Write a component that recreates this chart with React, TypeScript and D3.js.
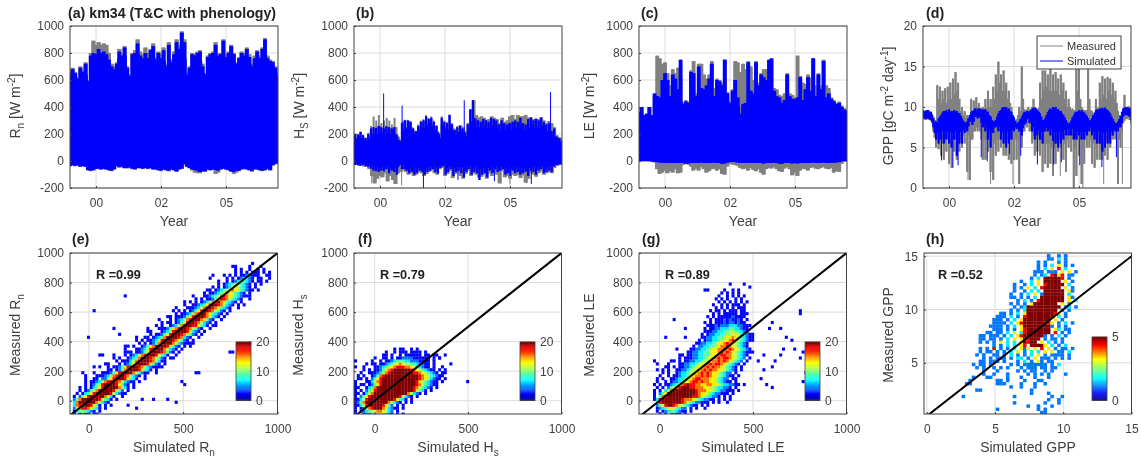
import React, { useRef, useEffect } from "react";
import * as d3 from "d3";

const W = 1141;
const H = 461;

// time axis: envelopes are read at even steps between these two years
const yearSpan = [1999, 2007];
const yearTicks = [2000, 2002.5, 2005];
const yearLabels = ["00", "02", "05"];

// (a) Rn envelopes
const rnObsUp = [660,690,660,620,700,670,730,600,800,890,860,880,860,870,860,800,720,700,730,830,790,850,700,640,800,820,900,810,790,840,800,830,870,770,810,790,840,720,880,750,810,900,860,960,900,660,700,800,790,810,820,720,650,780,800,810,880,800,800,900,790,810,860,800,730,770,810,800,840,790,720,780,820,780,840,910,780,750,740,700,630];
const rnSimUp = [630,590,680,620,650,600,610,560,690,620,660,600,720,640,590,560,780,700,800,740,790,710,830,760,800,730,810,740,790,720,750,690,700,650,680,660,720,760,810,740,780,700,840,780,690,640,630,600,790,720,800,750,870,790,780,720,760,700,800,750,760,710,820,770,850,760,750,700,800,740,760,700,820,740,700,650,860,760,730,680,790,730,880,800,830,770,950,860,880,760,640,600,690,650,790,720,780,730,800,740,810,740,700,650,640,610,770,710,790,740,800,740,860,780,780,720,790,730,890,760,770,720,800,750,850,770,790,730,720,680,760,710,800,750,780,720,830,760,770,720,700,660,760,710,810,750,760,720,830,770,900,770,760,720,740,700,730,680,690,650,620];
const rnObsLow = [-38,-32,-38,-32,-42,-38,-42,-70,-75,-70,-60,-60,-64,-60,-64,-70,-75,-64,-38,-48,-44,-54,-54,-48,-60,-64,-54,-54,-60,-54,-60,-54,-64,-64,-70,-75,-64,-70,-75,-64,-70,-80,-64,-60,-24,-44,-54,-70,-85,-90,-90,-80,-80,-65,-70,-65,-95,-85,-65,-60,-64,-70,-80,-95,-85,-75,-64,-60,-64,-70,-80,-64,-64,-70,-75,-70,-60,-70,-34,-24,-18];
const rnSimLow = [-35,-30,-35,-30,-40,-35,-40,-65,-70,-65,-55,-55,-60,-55,-60,-65,-70,-60,-35,-45,-40,-50,-50,-45,-55,-60,-50,-50,-55,-50,-55,-50,-60,-60,-65,-70,-60,-65,-70,-60,-65,-75,-60,-55,-20,-40,-50,-60,-65,-70,-80,-75,-75,-60,-65,-60,-65,-70,-60,-55,-60,-65,-75,-80,-70,-70,-60,-55,-60,-65,-70,-60,-60,-65,-70,-65,-55,-65,-30,-20,-15];

// (b) Hs envelopes
const hsObsUp = [190,205,170,200,190,220,170,195,175,170,150,210,180,260,210,330,240,300,250,340,260,280,240,300,260,320,250,300,240,270,220,320,250,200,180,160,150,290,240,305,250,305,260,295,240,250,210,225,200,270,240,300,250,310,260,340,280,320,270,330,280,300,250,265,220,210,180,330,270,300,260,290,250,345,280,280,240,240,200,260,220,265,230,250,220,220,190,280,240,385,300,450,340,340,280,320,260,330,280,320,260,305,250,310,270,330,270,320,270,310,250,280,240,320,260,290,250,300,260,330,270,340,280,310,250,340,270,330,270,330,270,340,280,320,260,325,270,310,260,315,250,310,260,325,270,300,250,280,230,295,240,280,200,250,190,190,160,175,150,160];
const hsSimUp = [180,200,165,195,180,215,170,190,160,170,150,200,165,240,190,250,200,245,195,260,205,250,210,240,190,255,205,250,200,240,195,250,200,190,160,150,140,280,220,300,240,300,250,290,220,240,200,220,190,260,210,290,240,300,240,330,260,310,250,320,260,290,230,260,210,200,170,320,260,290,240,280,230,340,260,270,220,230,190,250,210,260,220,240,210,210,180,270,230,380,290,450,320,310,250,300,250,290,240,310,250,300,240,290,240,320,260,310,250,300,240,270,220,300,240,280,230,270,220,280,230,290,240,300,240,290,240,320,260,280,230,270,220,310,250,320,260,300,240,310,250,300,240,320,260,290,240,270,220,280,220,220,190,240,180,180,150,170,140,150];
const hsObsLow = [-30,-25,-35,-30,-40,-35,-60,-110,-165,-130,-110,-120,-90,-150,-110,-140,-170,-90,-80,-70,-80,-100,-90,-110,-100,-80,-90,-110,-95,-80,-70,-90,-100,-60,-50,-110,-95,-70,-125,-95,-85,-110,-130,-95,-70,-110,-90,-100,-120,-115,-100,-130,-90,-110,-80,-100,-165,-75,-120,-110,-130,-100,-110,-100,-125,-105,-160,-130,-90,-100,-115,-90,-75,-100,-90,-80,-90,-50,-35,-30,-25];
const hsSimLow = [-22,-30,-20,-28,-25,-35,-22,-30,-25,-40,-28,-45,-30,-55,-35,-70,-40,-75,-45,-80,-50,-70,-40,-75,-45,-60,-35,-90,-50,-70,-40,-80,-50,-100,-45,-30,-25,-60,-30,-60,-35,-70,-40,-90,-50,-80,-40,-100,-50,-90,-45,-70,-40,-80,-45,-100,-50,-80,-45,-70,-40,-60,-35,-80,-45,-90,-40,-50,-30,-40,-30,-100,-50,-80,-40,-60,-35,-110,-50,-80,-45,-70,-40,-90,-45,-120,-55,-80,-40,-60,-35,-100,-50,-80,-40,-90,-50,-140,-55,-100,-50,-90,-45,-120,-50,-70,-35,-90,-45,-60,-35,-80,-40,-70,-35,-60,-35,-100,-50,-90,-45,-110,-50,-70,-40,-90,-45,-80,-40,-100,-50,-90,-45,-80,-40,-110,-50,-70,-35,-80,-40,-100,-45,-70,-35,-60,-35,-90,-45,-80,-40,-70,-35,-80,-35,-40,-25,-30,-22,-25,-20,-20];
const hsObsSpikes = [[1999.68, -165], [2000.83, -180], [2000.62, -165], [2005.0, -170], [2005.6, -160]];
const hsSimSpikes = [[2000.14, 500], [2000.85, 410], [2001.67, -200], [2003.24, 450], [2006.56, 510], [2003.0, -140], [2004.4, -150], [2005.82, -170]];

// (c) LE envelopes
const leObsUp = [360,340,400,350,340,330,350,330,400,340,340,330,480,390,780,560,760,600,720,520,730,500,650,470,560,480,680,520,650,500,690,480,620,440,430,380,450,400,440,390,670,480,740,520,500,440,720,480,720,500,640,470,610,460,640,480,740,520,540,450,610,470,600,450,580,430,750,450,510,400,440,380,530,420,740,500,730,520,660,480,720,520,680,480,740,500,700,480,600,440,740,480,580,450,650,460,680,490,680,480,560,430,530,420,540,430,530,430,490,400,480,400,500,420,650,450,500,420,490,410,470,410,780,450,630,460,580,440,570,440,640,460,620,450,760,470,560,440,650,470,560,440,750,460,560,430,540,420,470,400,450,390,430,380,440,380,410,370,390,360,375];
const leSimUp = [360,330,400,340,340,330,350,320,400,330,340,320,500,400,480,430,470,430,600,450,650,460,600,440,480,420,640,450,610,450,530,430,750,440,420,360,440,380,430,370,660,430,650,440,480,400,700,450,540,430,530,420,560,430,610,440,720,450,480,420,600,440,590,430,560,410,750,430,500,390,430,360,520,410,600,440,470,400,350,330,420,370,430,380,730,430,520,420,500,420,730,430,560,430,640,450,620,440,600,440,750,430,760,430,520,410,480,400,470,400,430,380,450,390,640,420,480,400,460,400,460,400,470,400,620,420,450,390,530,410,620,430,520,410,760,430,480,410,640,430,530,410,740,420,470,400,500,410,460,390,440,380,420,370,430,380,400,360,380,350,370];
const leObsLow = [-2,-2,-2,-2,-2,-4,-10,-60,-95,-85,-70,-90,-75,-85,-60,-90,-85,-30,-15,-25,-40,-70,-55,-70,-45,-60,-85,-75,-60,-55,-70,-60,-95,-100,-40,-20,-25,-30,-35,-50,-60,-55,-70,-50,-65,-75,-60,-85,-100,-60,-50,-55,-45,-60,-75,-80,-55,-45,-60,-105,-85,-110,-70,-55,-60,-70,-50,-45,-55,-60,-50,-45,-55,-60,-50,-85,-75,-80,-20,-8,-3];
const leSimLow = [0,0,0,0,0,-2,-5,-8,-10,-12,-12,-14,-12,-15,-12,-15,-14,-10,-18,-20,-14,-15,-12,-15,-10,-12,-15,-14,-12,-10,-12,-15,-20,-18,-10,-8,-5,-8,-10,-12,-14,-12,-15,-10,-12,-15,-12,-14,-18,-15,-12,-14,-10,-15,-18,-20,-14,-12,-15,-18,-15,-18,-14,-12,-14,-15,-12,-10,-12,-15,-12,-10,-12,-14,-10,-12,-10,-8,-2,0,0];

// (d) GPP envelopes
const gppObsUp = [9.6,9.5,9.6,9.4,9.6,9.5,9.4,9.2,8.8,8.4,8.3,12.7,11,12.5,10.5,12,11,12.3,10.5,12.5,11,13,11,13.5,11.5,14.3,12,13,11,9.5,10,9,9.5,8.6,9,8.7,9,11,9.5,10.8,9.5,11.2,10,10.5,9.5,9.9,10,9.8,11,9.9,12,10,11,10,12.5,11,14,12,15.6,13,14,12,14.5,12,13,11,12,10.5,10,9,8.4,8.2,8.5,9,10,9.5,15,11,9.7,9.6,9.7,10,9.6,9.8,10,11,10,9.8,9.7,9.9,13,11,14.5,12,14.5,12.5,14,12,14.7,12,14,12,14.3,12,13.5,11.5,14,12,13,11,12,10,11,10,9.6,9.8,9.5,9.6,14.7,12,14.9,11,10,9.7,9.6,9.6,9.6,15,11,9.6,9.5,8.5,9,11,9.5,10,13,11,13.8,11.5,13.5,11,13.7,12,13.5,11.5,13,11,12,10.5,9.5,9,8.5,9,9.5,11.5,10,10,10.1,10,9.8];
const gppSimUp = [9.6,9.4,9.5,9.6,9.6,9.3,9.4,9,8.6,8.1,8.2,8,8.6,8.8,9,9.3,9.5,9.4,9.6,9.3,9.7,9.4,9.5,9.3,9.6,9.4,9.5,9.2,9.2,8.9,8.6,8.3,8,8.1,8.2,8.6,9,9.3,9.5,9.6,9.8,9.6,9.8,9.7,9.8,9.6,9.7,9.6,9.7,9.4,9.4,9,8.8,8.4,8.2,8.2,8.4,8.8,9.2,9.5,9.6,9.9,10,9.8,10,9.7,9.8,9.5,9.4,9,8.7,8.3,8,8,8.2,8.5,8.8,9.1,9.4,9.3,9.5,9.3,9.5,9.6,9.7,9.9,9.9,9.8,9.6,9.4,9.2,8.8,8.4,8.4,8.6,9,9.4,9.6,9.8,9.7,10,9.8,10,9.7,9.7,9.5,9.5,9.2,9,8.7,8.4,8.1,7.9,8,8.3,8.7,9,9.3,9.4,9.4,9.6,9.4,9.6,9.4,9.3,9.1,8.9,8.6,8.3,8.4,8.6,9,9.3,9.6,9.7,9.6,9.8,9.7,9.9,9.7,9.9,9.7,9.6,9.4,9.2,8.8,8.5,8.2,8,8,8.2,8.5,8.9,9.4,9.8,9.9,10,9.9,9.9,9.8,9.6];
const gppObsLow = [8.5,8.6,8.4,8.5,8.5,8.4,8.3,8,7,6.2,5,6,4.8,6,4,5.5,3.5,5.5,4.5,6,3,5.5,2.5,5,4.5,6,3.5,5.5,4.5,6,5,6.5,5.5,7,2,6.5,1,6,6,7,7,7.5,7,7.5,7,6,3.5,6,3.5,6,4.5,6.5,2,6,1,5.5,4,6,4.5,6,5,6.5,4,6,4,6,3.5,6,3,6,3.5,6,3.5,6,0.5,6,5,7,7,8,7.5,8,7,7,5.5,6.5,4,6,4.5,6,4,6,2,5.5,3,5.5,2.5,5.5,3,5,1.5,5,3,5.5,4.5,6,5,6,3.5,5.5,2,6,5,6.5,4.5,6,0,5,1.5,6,4,6,0.5,5,3,6,5,6.5,5,6,3,5.5,2.5,5.5,3.5,5.5,3.5,5.5,3.5,5.5,4,6,3.5,6,5,6.5,6,7,6,7,0.5,6,5,7,8,8.3,8.5,8.6,8.5,8.4,8];
const gppSimLow = [8.6,8.7,8.5,8.6,8.6,8.5,8.4,8.2,7.5,6.8,6,6.9,5.5,6.9,6,7,5.5,7,6,7,5.5,7,5,6.8,6,7,4,6.8,5.5,7,5.5,7.2,6.8,7.5,7,7.6,8.2,8.4,7.8,8.2,8.8,8.9,8.6,8.8,8.7,8,7.5,8,7,7.6,6,7.2,5,7,6.8,7.5,7.5,7.8,7,7.5,6,7,5.5,7,5,7,5.5,7,6,7.2,7,7.5,7.3,7.5,7,7.4,6.5,7.4,7.8,8,8.5,8.6,8,8.4,7,7.6,6,7,6.5,7.2,6,7,5.5,7,7,7.5,7,7.3,6.5,7.2,5.8,7,5.5,7,5,7,5.5,7,6,7.2,6.5,7.3,6.5,7.3,6.5,7.3,6,7,6,7,6.5,7,6,7,6,7,6.5,7.2,7,7.5,6.5,7,6,7,5.5,7,5.5,7,4.5,6.8,5,7,5.5,7,5.5,7,6.5,7.3,7,7.5,7,7.5,7.5,8,8.8,9,9,9.1,8.9,8.8,8.4];
const gppObsSpikes = [[2000.73, 1], [2001.6, 0.5], [2002.46, 0.5], [2004.28, 1.5], [2005.15, 0], [2005.95, 0.5], [2006.67, 0.5]];
const gppSimSpikes = [[1999.71, 3.4], [2000.15, 2.5], [2000.35, 2.8], [2001.24, 3.8], [2001.47, 3.3], [2002.33, 4.2], [2002.76, 4], [2003.4, 2.9], [2004.03, 2.9], [2004.32, 3.2], [2005.03, 2.8], [2005.88, 2.6], [2006.44, 3.8]];

// density rows: [first column, one digit per bin, 1 = lowest, 9 = colour bar top, . = empty]
const rnRows = [
  [1,"1.1211.11"],[1,"13454321.1"],[1,"2578876431.1"],[1,"3789998641.1.1"],[1,"3799999975321"],
  [1,"24799999986431.1"],[1,"1.2468999997631..1"],[2,"1.1346899999853211"],[3,"1.12457999998642.1"],[3,"1.1.13468999997531.1"],
  [2,"...1.12458999986421.1"],[3,"..1.1123578998753211.1"],[5,"1..11.2246899986431..1"],[6,"...1112357899875321.1"],[7,".1..11124689999754211..1"],
  [9,"....11.1247899986431.1"],[10,"1..1.112458999875321111"],[11,".11...1.1236899986421.1"],[13,"...1.1113578999875311"],[14,".1.1..12347999875421.11"],
  [15,"1...1.12357899986431..1"],[17,"..111.11246899987421.1"],[18,".1...112358999975321.1"],[19,"11.1..12467999986421.1.1"],[21,"...1.1.1247899975321111"],
  [22,".1.1.112358999876421.1"],[23,"1..11.12347999987321..1"],[25,"...1.112468999875421.1"],[26,".11...12358999986321.1"],[27,"1...1112467899875421..1"],
  [29,".1.1..12357999886431.11"],[30,"..1.11.1246899875321.1"],[31,"1...1.12357899976421..1"],[33,".11.1112468999875321.1"],[34,"...1.112357899764321.1"],
  [35,".1.1.1.1246899875421.1"],[37,"1...1112357998764321..1"],[38,"..1..112346899875321.1.1"],[39,".1.1.1.1235789764321.1"],[41,"...1.1.1124688754321..1"],
  [42,".1...11234578765432111"],[43,"....1.1123467654321.1"],[45,"...11.12345676543211.1"],[46,"....1.1.1235654321.1"],[47,".....1.1234554321.1.1"],
  [49,"...1..1.12344321.1"],[50,".....1.1.123321.11..1"],[51,"...1.1.1.1122111..11"],[53,".....1.1.1.111.1.1"],[54,"....1.1..1..1.1"],
  [55,"...1....1...1"],
];
const rnOutliers = [[32,612],[-10,420],[190,710],[130,480],[160,450],[70,310],[50,300],[20,220],[-20,160],[-40,180],[287,0],[340,0],[420,0],[455,-15],[491,120],[500,100],[570,190],[585,190],[765,320],[745,325],[845,385],[250,-60],[200,-40],[760,900],[905,800],[940,805],[870,920],[640,830],[650,850]];

const hsRows = [
  [0,"1..12233454321.1.1"],[0,"1.123456776532.1"],[0,"1.12478999753211.1"],[0,"11358999998642.1.1"],[0,"12479999999975321.1.1"],
  [0,"1135899999999986431.1"],[0,"1.2468999999999986321.1"],[0,"11.135799999999999975321.1"],[0,"1.1.2468999999999999986431.1"],[0,"11..134799999999999998754321.1"],
  [0,"1.11.1246899999999999987543211"],[0,"1...11357899999999999986543211.1"],[1,"11.1.2468999999999999987653211.1"],[1,"1.1..12478999999999999876543211"],[2,"1..1112357899999999887654321.11"],
  [2,".1.1.1124678999999876543211.1.1"],[3,"1...11234567888776543211.1..1"],[4,"1.11.112345676554432211.1"],[6,"1..1.1123444332221111.1"],[7,"1..11.1.112222111111.1.1"],
  [10,"11.1..1.111111.11.11"],[11,"1..1.111.1111.1"],[14,"1.11..1.1"],
];
const hsOutliers = [[500,130],[410,240],[375,300],[345,290],[-105,260],[-100,225]];

const leRows = [
  [7,"1.1.2211.1"],[6,"1.123443211.1"],[6,"12345654322.1.1..1"],[6,"246899876543211.1.1"],[6,"5899999998754322111.1.1..1"],
  [5,"1389999999877765432211.1.1.1"],[5,"1.4789999999998876543221.1.1"],[5,"1.2469999999999876654322111.1"],[5,"1.1.3579999999987776654322111.1"],[5,".1.1.24678999887776655433221.1"],
  [5,"1.1.112345789887766776654332211.1"],[6,"1..1.1223456788787766543211.1"],[6,"1.1..112334567887776654322.11"],[7,"1..1.1123345677878766543211.1"],[7,".1.1..12334566787876654322.1"],
  [8,"1.1..1122345667878776654321.1"],[9,"1..1.112234566787877654321.1"],[9,".1...1122334566787887654321.1"],[12,"1.1.112233455677878765432.1"],[14,"1.1112233456678788765432.1"],
  [15,"1.1122334456678877654321"],[17,"11223344566787876543211"],[18,"1122334566778787654321"],[19,"1.223344567787654321"],[20,"1122334566787654321"],
  [21,"1.122334556786543211"],[21,".1122334456676543211"],[22,"1.12233445566543211"],[22,".1112233445544321"],[23,"1.11223334433211"],
  [23,".1112122233322111"],[23,"1.1.11121221211"],[24,".1.1112121121.1"],[24,"1.1.1111121111"],[25,".1.1.11111.111"],
  [25,"1.11.1.111.11"],[26,".1.1.1.1.111"],[26,"1..1.1.111.1"],[27,".1.1.1.1.1.1"],[27,"1.1.1..1.1"],
  [28,"1..1.1.1.1"],[29,"1.1.1.1"],[30,"1..1.1"],
];
const leOutliers = [[237,757],[375,784],[455,780],[480,765],[250,750],[583,484],[640,495],[600,530],[750,600],[745,595],[700,400],[720,350],[770,320],[750,280],[640,300],[620,260],[600,220],[560,200],[540,150],[570,100],[600,90],[780,180],[760,130],[660,350],[680,420],[70,540],[140,480],[-30,270],[30,420],[90,355],[130,420],[100,300],[60,260],[40,230],[-10,200],[-20,250],[560,310],[520,260],[500,330]];

const gppRows = [
  [34,"22"],[21,"2...........2.2"],[30,"2..2...2"],[26,"2........2...2"],[36,"2..2"],
  [11,"2..............2..........2..2"],[31,"2....2"],[15,"22..............2"],[25,"2..2...2"],[12,"22.......222....2...2..2"],
  [13,"2.......22.2....2...22"],[14,"2...22....2...2...2...2"],[17,"2..2...2.....2.2.2.2....2"],[17,"2...2.....2.2.22..2.2"],[15,"2.2..2.2.2...2.222.22.22"],
  [14,"2.22.2.....2.2.2222222.2.3"],[16,"22.222.2...2.3.2.62.22"],[17,"2.2.222.2.33.2.6.222.2.2.2"],[15,"2.2..22.2.3.2.2.3.6.2.2222.2"],[16,"2.22.2.2.3.6.2.3.3.6.6.22.3"],
  [16,"2.2.8.2.2.3.626.6.8.6.2.22.2"],[16,"....2.2.3.3.68.99996.3.2.3"],[16,"2.2.2.6.3.3.69899.6.3.2.2"],[16,"22.22.2.3.6.698999.2.22.2"],[16,"22.222.2.3.689999992.2.3.2"],
  [16,"..22.22.3.6.389999999.8.2.2"],[16,"....222.2.2.689999999.63.22"],[16,"...2222.2.3.6999999992.2.2"],[16,"....2222.3.68999999986.2.3.2"],[16,"....222.2.3.699999999.6.2"],
  [16,".....222.3.2.899999999.3.2"],[16,"......22.2.3.69999999986.2"],[16,".........2.2.3999999999.2.2"],[16,"..........2.239999999999.23.2"],[16,".........2.2.2.69999999.6.2"],
  [16,"...........2.3.2.89999999.6.3"],[16,".........22.2.2.3.9999999.62"],[16,".........2..2.3.6.2999999.3"],[16,"..........2..2.3.3.999999.62"],[16,"..........2.2.6.3.899999.6.2"],
  [16,"..........2..2.3.6.899999.3"],[16,"............2..3.6.99999.6.2"],[16,"...............2.3.999998.2"],[16,"................2.23.8968.22"],[16,"................222.222.6.6.2"],
  [16,".................2.3.6.8.3"],[16,".................2.2.3.6.2.2"],[16,".................2.2...2.2"],[16,"....................22.3.2"],[16,"....................2..2.2"],
];

// colour bar
const jetStops = [0, 0.11, 0.35, 0.5, 0.65, 0.88, 1];
const jetColors = ["#00007f", "#0000ff", "#00ffff", "#7fff7f", "#ffff00", "#ff0000", "#7f0000"];

const INK = "#404040";
const GRID = "#dcdcdc";
const FONT = "'Liberation Sans', Arial, sans-serif";

const topPanels = [
  { left: 70, tag: "(a) km34 (T&C with phenology)", tagX: 68, domain: [-200, 1000], ticks: [-200, 0, 200, 400, 600, 800, 1000], obsUp: rnObsUp, simUp: rnSimUp, obsLow: rnObsLow, simLow: rnSimLow, obsSpikes: [], simSpikes: [], base: 300, labelX: 20, label: [["R"], ["n", "sub"], [" [W m"], ["-2", "sup"], ["]"]] },
  { left: 354, tag: "(b)", tagX: 356, domain: [-200, 1000], ticks: [-200, 0, 200, 400, 600, 800, 1000], obsUp: hsObsUp, simUp: hsSimUp, obsLow: hsObsLow, simLow: hsSimLow, obsSpikes: hsObsSpikes, simSpikes: hsSimSpikes, base: 70, labelX: 304, label: [["H"], ["S", "sub"], [" [W m"], ["-2", "sup"], ["]"]] },
  { left: 639, tag: "(c)", tagX: 641, domain: [-200, 1000], ticks: [-200, 0, 200, 400, 600, 800, 1000], obsUp: leObsUp, simUp: leSimUp, obsLow: leObsLow, simLow: leSimLow, obsSpikes: [], simSpikes: [], base: 150, labelX: 594, label: [["LE [W m"], ["-2", "sup"], ["]"]] },
  { left: 923, tag: "(d)", tagX: 926, domain: [0, 20], ticks: [0, 5, 10, 15, 20], obsUp: gppObsUp, simUp: gppSimUp, obsLow: gppObsLow, simLow: gppSimLow, obsSpikes: gppObsSpikes, simSpikes: gppSimSpikes, base: 8, labelX: 893, label: [["GPP [gC m"], ["-2", "sup"], [" day"], ["-1", "sup"], ["]"]] },
];

const bottomPanels = [
  { left: 70, tag: "(e)", tagX: 72, rText: "R =0.99", rX: 96, xDomain: [-100, 1000], yDomain: [-90, 1000], xTicks: [0, 500, 1000], yTicks: [0, 200, 400, 600, 800, 1000], rows: rnRows, outliers: rnOutliers, bins: [-100, 15, -100, 20], barX: 236, barTop: 342, barMax: 20, barTicks: [0, 10, 20], labelX: 20, yLabel: [["Measured R"], ["n", "sub"]], xLabel: [["Simulated R"], ["n", "sub"]] },
  { left: 354, tag: "(f)", tagX: 358, rText: "R =0.79", rX: 380, xDomain: [-110, 1000], yDomain: [-90, 1000], xTicks: [0, 500, 1000], yTicks: [0, 200, 400, 600, 800, 1000], rows: hsRows, outliers: hsOutliers, bins: [-110, 15, -100, 20], barX: 520, barTop: 342, barMax: 20, barTicks: [0, 10, 20], labelX: 303, yLabel: [["Measured H"], ["s", "sub"]], xLabel: [["Simulated H"], ["s", "sub"]] },
  { left: 639, tag: "(g)", tagX: 642, rText: "R =0.89", rX: 665, xDomain: [-110, 1000], yDomain: [-90, 1000], xTicks: [0, 500, 1000], yTicks: [0, 200, 400, 600, 800, 1000], rows: leRows, outliers: leOutliers, bins: [-110, 15, -100, 20], barX: 805, barTop: 342, barMax: 20, barTicks: [0, 10, 20], labelX: 594, yLabel: [["Measured LE"]], xLabel: [["Simulated LE"]] },
  { left: 924, tag: "(h)", tagX: 926, rText: "R =0.52", rX: 938, xDomain: [-0.2, 15], yDomain: [0.2, 15.3], xTicks: [0, 5, 10, 15], yTicks: [5, 10, 15], rows: gppRows, outliers: [], bins: [-0.2, 0.25, 0.2, 0.3], barX: 1092, barTop: 337, barMax: 5, barTicks: [0, 5], labelX: 893, yLabel: [["Measured GPP"]], xLabel: [["Simulated GPP"]] },
];

const addRich = (text, parts) => {
  let back = 0;
  parts.forEach(([s, kind]) => {
    const shift = kind === "sub" ? 4 : kind === "sup" ? -5 : 0;
    const span = text.append("tspan").text(s).attr("dy", back + shift);
    if (kind) span.attr("font-size", 10);
    back = -shift;
  });
};

const styleAxis = (g) => {
  g.selectAll("path").remove();
  g.selectAll("line").attr("stroke", INK);
  g.selectAll("text").attr("fill", INK).attr("font-size", 12).attr("font-family", FONT);
};

const drawFrame = (g, x, y, xTicks, yTicks, xFmt) => {
  const [x0, x1] = x.range();
  const [y0, y1] = y.range();
  g.append("g").selectAll("line").data(xTicks).join("line")
    .attr("x1", (d) => x(d)).attr("x2", (d) => x(d)).attr("y1", y0).attr("y2", y1)
    .attr("stroke", GRID);
  g.append("g").selectAll("line").data(yTicks).join("line")
    .attr("y1", (d) => y(d)).attr("y2", (d) => y(d)).attr("x1", x0).attr("x2", x1)
    .attr("stroke", GRID);
  return () => {
    const xAxis = d3.axisBottom(x).tickValues(xTicks).tickFormat(xFmt).tickSizeInner(-2).tickSizeOuter(0).tickPadding(10);
    g.append("g").attr("transform", `translate(0,${y0})`).call(xAxis).call(styleAxis);
    const yAxis = d3.axisLeft(y).tickValues(yTicks).tickSizeInner(-2).tickSizeOuter(0).tickPadding(6).tickFormat((d) => String(d));
    g.append("g").attr("transform", `translate(${x0},0)`).call(yAxis).call(styleAxis);
    g.append("rect").attr("x", x0).attr("y", y1).attr("width", x1 - x0).attr("height", y0 - y1)
      .attr("fill", "none").attr("stroke", INK);
  };
};

const addTag = (g, s, x, y) => {
  g.append("text").attr("x", x).attr("y", y).attr("font-family", FONT).attr("font-weight", "bold")
    .attr("font-size", 14.2).attr("fill", "#222").text(s);
};

const addYLabel = (g, parts, x, y) => {
  const t = g.append("text").attr("transform", `translate(${x},${y}) rotate(-90)`)
    .attr("text-anchor", "middle").attr("font-family", FONT).attr("font-size", 14).attr("fill", INK);
  addRich(t, parts);
};

const addXLabel = (g, parts, x, y) => {
  const t = g.append("text").attr("x", x).attr("y", y)
    .attr("text-anchor", "middle").attr("font-family", FONT).attr("font-size", 14).attr("fill", INK);
  addRich(t, parts);
};

const App = () => {
  const svgRef = useRef();

  useEffect(() => {
    const svg = d3.select(svgRef.current);
    svg.selectAll("*").remove();
    const defs = svg.append("defs");
    defs.append("filter").attr("id", "soft").attr("x", 0).attr("y", 0).attr("width", 1).attr("height", 1)
      .append("feGaussianBlur").attr("stdDeviation", 0.5);
    const root = svg.append("g").attr("filter", "url(#soft)");
    root.append("rect").attr("width", W).attr("height", H).attr("fill", "#fff");

    const jet = d3.scaleLinear().domain(jetStops).range(jetColors).clamp(true);

    // time series row
    topPanels.forEach((p, i) => {
      const g = root.append("g");
      const x = d3.scaleLinear().domain(yearSpan).range([p.left, p.left + 208]);
      const y = d3.scaleLinear().domain(p.domain).range([188, 26]);
      const finish = drawFrame(g, x, y, yearTicks, p.ticks, (_, k) => yearLabels[k]);
      const clipId = `top${i}`;
      defs.append("clipPath").attr("id", clipId).append("rect")
        .attr("x", p.left).attr("y", 26).attr("width", 208).attr("height", 162);
      const plot = g.append("g").attr("clip-path", `url(#${clipId})`);

      // each reading is one vertical stroke from the opposite envelope to its value
      const strokes = (values, other, color) => {
        const at = d3.scaleLinear().domain([0, values.length - 1]).range(yearSpan);
        const wide = (208 / (values.length - 1)) * 1.5;
        const pick = (k) => other[Math.round((k / (values.length - 1)) * (other.length - 1))];
        plot.append("g").selectAll("line").data(values).join("line")
          .attr("x1", (_, k) => x(at(k))).attr("x2", (_, k) => x(at(k)))
          .attr("y1", (_, k) => y(pick(k))).attr("y2", (d) => y(d))
          .attr("stroke", color).attr("stroke-width", wide);
      };
      const spikes = (list, color) => {
        plot.append("g").selectAll("line").data(list).join("line")
          .attr("x1", (d) => x(d[0])).attr("x2", (d) => x(d[0]))
          .attr("y1", y(p.base)).attr("y2", (d) => y(d[1]))
          .attr("stroke", color).attr("stroke-width", 1);
      };
      strokes(p.obsUp, p.obsLow, "#808080");
      strokes(p.obsLow, p.obsUp, "#808080");
      spikes(p.obsSpikes, "#808080");
      strokes(p.simUp, p.simLow, "#0000ff");
      strokes(p.simLow, p.simUp, "#0000ff");
      spikes(p.simSpikes, "#0000ff");
      finish();
      addTag(g, p.tag, p.tagX, 18);
      addYLabel(g, p.label, p.labelX, 106);
      addXLabel(g, [["Year"]], p.left + 104, 226);
    });

    // legend of (d)
    const legend = root.append("g");
    legend.append("rect").attr("x", 1037).attr("y", 36).attr("width", 84).attr("height", 33)
      .attr("fill", "#fff").attr("stroke", INK);
    [["Measured", "#808080", 46], ["Simulated", "#0000ff", 61]].forEach(([s, c, yy]) => {
      legend.append("line").attr("x1", 1040).attr("x2", 1063).attr("y1", yy).attr("y2", yy).attr("stroke", c);
      legend.append("text").attr("x", 1067).attr("y", yy + 4).attr("font-family", FONT).attr("font-size", 11)
        .attr("fill", "#333").text(s);
    });

    // scatter density row
    bottomPanels.forEach((p, i) => {
      const g = root.append("g");
      const x = d3.scaleLinear().domain(p.xDomain).range([p.left, p.left + 207.5]);
      const y = d3.scaleLinear().domain(p.yDomain).range([414, 253]);
      const finish = drawFrame(g, x, y, p.xTicks, p.yTicks, (d) => String(d));
      const clipId = `bot${i}`;
      defs.append("clipPath").attr("id", clipId).append("rect")
        .attr("x", p.left).attr("y", 253).attr("width", 207.5).attr("height", 161);
      const plot = g.append("g").attr("clip-path", `url(#${clipId})`);
      const [x0, dx, y0, dy] = p.bins;
      const cells = [];
      p.rows.forEach(([start, digits], r) => {
        Array.from(digits).forEach((ch, k) => {
          if (ch !== ".") cells.push({ c: start + k, r, v: +ch });
        });
      });
      p.outliers.forEach(([ox, oy]) => {
        cells.push({ c: Math.floor((ox - x0) / dx), r: Math.floor((oy - y0) / dy), v: 1 });
      });
      plot.selectAll("rect").data(cells).join("rect")
        .attr("x", (d) => x(x0 + d.c * dx))
        .attr("y", (d) => y(y0 + (d.r + 1) * dy))
        .attr("width", x(dx) - x(0) + 0.2)
        .attr("height", y(0) - y(dy) + 0.2)
        .attr("fill", (d) => jet(d.v / 9));
      plot.append("path")
        .attr("d", d3.line().x((d) => x(d)).y((d) => y(d))([p.xDomain[0], p.xDomain[1]]))
        .attr("stroke", "#000").attr("stroke-width", 2).attr("fill", "none");
      finish();
      g.append("text").attr("x", p.rX).attr("y", 279).attr("font-family", FONT).attr("font-weight", "bold")
        .attr("font-size", 12.7).attr("fill", "#222").text(p.rText);
      addTag(g, p.tag, p.tagX, 244);
      addYLabel(g, p.yLabel, p.labelX, 335);
      addXLabel(g, p.xLabel, p.left + 104, 452);

      // colour bar
      const cb = d3.scaleLinear().domain([0, p.barMax]).range([400.5, p.barTop]);
      const steps = d3.range(64).map((k) => (k / 64) * p.barMax);
      g.append("g").selectAll("rect").data(steps).join("rect")
        .attr("x", p.barX).attr("width", 15)
        .attr("y", (d) => cb(d + p.barMax / 64) - 0.2)
        .attr("height", cb(0) - cb(p.barMax / 64) + 0.4)
        .attr("fill", (d) => jet((d + p.barMax / 128) / p.barMax));
      g.append("rect").attr("x", p.barX).attr("y", p.barTop).attr("width", 15).attr("height", 400.5 - p.barTop)
        .attr("fill", "none").attr("stroke", INK).attr("stroke-width", 0.8);
      const barAxis = d3.axisRight(cb).tickValues(p.barTicks).tickSize(0).tickPadding(5).tickFormat((d) => String(d));
      g.append("g").attr("transform", `translate(${p.barX + 15},0)`).call(barAxis).call(styleAxis);
    });
  }, []);

  return (
    <svg ref={svgRef} width={W} height={H} style={{ position: "absolute", left: 0, top: 0, background: "#fff" }} />
  );
};

export default App;
